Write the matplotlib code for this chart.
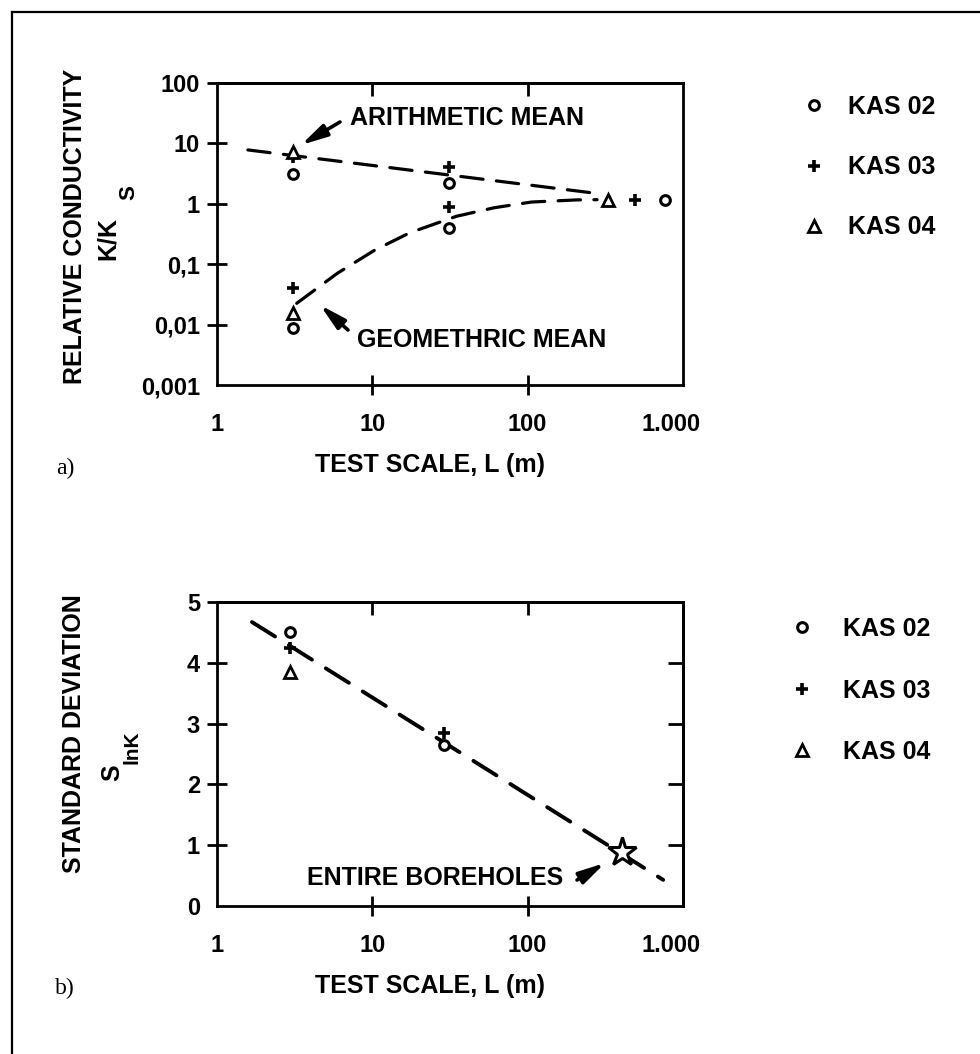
import matplotlib
matplotlib.use('Agg')
import matplotlib.pyplot as plt
from matplotlib.lines import Line2D
from matplotlib.ticker import NullLocator
from matplotlib.transforms import ScaledTranslation

plt.rcParams['font.family'] = ['Liberation Sans', 'DejaVu Sans']
plt.rcParams['font.weight'] = 'bold'

# ---------------- data ----------------
x_ticks = [1, 10, 100, 1000]
x_tick_labels = ['1', '10', '100', '1.000']
k_ticks = [0.001, 0.01, 0.1, 1, 10, 100]
k_tick_labels = ['0,001', '0,01', '0,1', '1', '10', '100']
s_ticks = [0, 1, 2, 3, 4, 5]
s_tick_labels = ['0', '1', '2', '3', '4', '5']
series_names = ['KAS 02', 'KAS 03', 'KAS 04']

# a) relative conductivity (arithmetic and geometric means, entire borehole)
kas02_L_a = [3.1, 31, 3.1, 31, 770]
kas02_K_a = [3.1, 2.2, 0.0087, 0.39, 1.15]
kas03_L_a = [3.1, 31, 3.1, 31, 490]
kas03_K_a = [6.0, 4.1, 0.040, 0.87, 1.15]
kas04_L_a = [3.1, 3.1, 330]
kas04_K_a = [7.3, 0.0154, 1.15]

arith_trend_L = [1.58, 300]
arith_trend_K = [7.8, 1.45]
geo_trend_L = [3.26, 5.95, 10.4, 17.5, 34.7, 60.8, 106, 207, 280]
geo_trend_K = [0.0225, 0.0707, 0.172, 0.333, 0.62, 0.86, 1.07, 1.16, 1.17]

# b) standard deviation of lnK
kas02_L_b = [2.95, 29]
kas02_S_b = [4.51, 2.65]
kas03_L_b = [2.95, 29]
kas03_S_b = [4.24, 2.85]
kas04_L_b = [2.95]
kas04_S_b = [3.85]
entire_L = [405]
entire_S = [0.89]
sd_trend_L = [1.68, 745]
sd_trend_S = [4.67, 0.43]

# ---------------- figure ----------------
W, H = 980, 1054
fig = plt.figure(figsize=(W / 100, H / 100), dpi=100)


def rect(l, t, r, b):
    return [l / W, 1 - b / H, (r - l) / W, (b - t) / H]


def fx(x):
    return x / W


def fy(y):
    return 1 - y / H


ax1 = fig.add_axes(rect(217, 83, 683, 385))
ax2 = fig.add_axes(rect(217, 602, 683, 906))

mk = dict(ls='none', color='k', mfc='white', mec='k')
m_circ = dict(marker='o', ms=7, mew=2.2)
m_plus = dict(marker='+', ms=9, mew=2.6)
m_tri = dict(marker='^', ms=8, mew=2.0)

dash = (0, (7, 4.2))

# panel a
ax1.plot(arith_trend_L, arith_trend_K, color='k', lw=2.3, ls=dash,
         dash_capstyle='round', zorder=2)
ax1.plot(geo_trend_L, geo_trend_K, color='k', lw=2.3, ls=dash,
         dash_capstyle='round', zorder=2)
h1 = ax1.plot(kas02_L_a, kas02_K_a, **mk, **m_circ, zorder=3)[0]
h2 = ax1.plot(kas03_L_a, kas03_K_a, **mk, **m_plus, zorder=3)[0]
h3 = ax1.plot(kas04_L_a, kas04_K_a, **mk, **m_tri, zorder=3)[0]

# panel b
ax2.plot(sd_trend_L, sd_trend_S, color='k', lw=2.8, ls=dash,
         dash_capstyle='round', zorder=2)
g1 = ax2.plot(kas02_L_b, kas02_S_b, **mk, **m_circ, zorder=3)[0]
g2 = ax2.plot(kas03_L_b, kas03_S_b, **mk, **m_plus, zorder=3)[0]
g3 = ax2.plot(kas04_L_b, kas04_S_b, **mk, **m_tri, zorder=3)[0]
ax2.plot(entire_L, entire_S, ls='none', marker='*', ms=21, mfc='white',
         mec='k', mew=2.2, zorder=4)

for ax in (ax1, ax2):
    ax.set_xscale('log')
    ax.set_xlim(1, 1000)
    for s in ax.spines.values():
        s.set_linewidth(2)
    ax.set_xticks(x_ticks, x_tick_labels)
    ax.xaxis.set_minor_locator(NullLocator())
    ax.tick_params(axis='x', direction='inout', length=15, width=2,
                   pad=13, labelsize=17)
    ax.tick_params(axis='y', direction='inout', length=14.4, width=2,
                   pad=5, labelsize=17)
    sec = ax.secondary_xaxis('top')
    sec.set_xticks([10, 100])
    sec.xaxis.set_minor_locator(NullLocator())
    sec.tick_params(direction='in', length=9, width=2, labeltop=False)
    sec.spines['top'].set_linewidth(2)

ax1.set_yscale('log')
ax1.set_ylim(0.001, 100)
ax1.set_yticks(k_ticks, k_tick_labels)
ax1.yaxis.set_minor_locator(NullLocator())

ax2.set_ylim(0, 5)
ax2.set_yticks(s_ticks, s_tick_labels)
secy = ax2.secondary_yaxis('right')
secy.set_yticks([1, 2, 3, 4])
secy.tick_params(direction='in', length=11, width=2, labelright=False)
secy.spines['right'].set_linewidth(2)

for ax in (ax1, ax2):
    xt = ax.xaxis.get_major_ticks()
    xt[0].tick1line.set_visible(False)
    xt[-1].tick1line.set_visible(False)
    yt = ax.yaxis.get_major_ticks()
    yt[0].tick1line.set_visible(False)
    for lbl in ax.get_xticklabels():
        if lbl.get_text() == '1.000':
            lbl.set_transform(lbl.get_transform() +
                              ScaledTranslation(-12 / 100, 0, fig.dpi_scale_trans))

# legends
ax1.legend([h1, h2, h3], series_names, loc='upper left',
           bbox_to_anchor=(fx(804), fy(95)), bbox_transform=fig.transFigure,
           frameon=False, borderpad=0, borderaxespad=0, handlelength=0.8,
           handletextpad=0.95, labelspacing=1.45, fontsize=18, numpoints=1)
ax2.legend([g1, g2, g3], series_names, loc='upper left',
           bbox_to_anchor=(fx(792), fy(617)), bbox_transform=fig.transFigure,
           frameon=False, borderpad=0, borderaxespad=0, handlelength=0.8,
           handletextpad=1.25, labelspacing=1.5, fontsize=18, numpoints=1)

# annotations
arrow = dict(arrowstyle='-|>,head_length=1.3,head_width=0.32', lw=2.6,
             color='k', shrinkA=0, shrinkB=0, mutation_scale=12)
fig.text(fx(350), fy(118), 'ARITHMETIC MEAN', fontsize=18, ha='left', va='center')
ax1.annotate('', xy=(301, H - 145), xycoords='figure pixels',
             xytext=(340, H - 122), textcoords='figure pixels', arrowprops=arrow)
fig.text(fx(357), fy(340), 'GEOMETHRIC MEAN', fontsize=18, ha='left', va='center')
ax1.annotate('', xy=(320, H - 305), xycoords='figure pixels',
             xytext=(348, H - 330), textcoords='figure pixels', arrowprops=arrow)
fig.text(fx(563), fy(878), 'ENTIRE BOREHOLES', fontsize=18, ha='right', va='center')
ax2.annotate('', xy=(605, H - 863), xycoords='figure pixels',
             xytext=(577, H - 880), textcoords='figure pixels', arrowprops=arrow)

# axis titles
fig.text(fx(75), fy(226), 'RELATIVE CONDUCTIVITY', rotation=90, fontsize=18,
         ha='center', va='center')
fig.text(fx(108), fy(238), 'K/K', rotation=90, fontsize=18, ha='center', va='center')
fig.text(fx(129), fy(193), 'S', rotation=90, fontsize=16, ha='center', va='center')

fig.text(fx(74), fy(734), 'STANDARD DEVIATION', rotation=90, fontsize=18,
         ha='center', va='center')
fig.text(fx(112), fy(773), 'S', rotation=90, fontsize=18, ha='center', va='center')
fig.text(fx(132), fy(747), 'lnK', rotation=90, fontsize=15, ha='center', va='center')

fig.text(fx(315), fy(465), 'TEST SCALE, L (m)', fontsize=18, ha='left', va='center')
fig.text(fx(315), fy(986), 'TEST SCALE, L (m)', fontsize=18, ha='left', va='center')

fig.text(fx(65), fy(468), 'a)', fontsize=17, ha='center', va='center',
         family=['Liberation Serif', 'DejaVu Serif'], weight='normal')
fig.text(fx(65), fy(988), 'b)', fontsize=17, ha='center', va='center',
         family=['Liberation Serif', 'DejaVu Serif'], weight='normal')

# page border (top and left edges)
fig.add_artist(Line2D([fx(12), fx(12)], [0, fy(12)], transform=fig.transFigure,
                      color='k', lw=1.6))
fig.add_artist(Line2D([fx(12), 1], [fy(12), fy(12)], transform=fig.transFigure,
                      color='k', lw=1.6))

fig.savefig('out.png', dpi=100, facecolor='white')
